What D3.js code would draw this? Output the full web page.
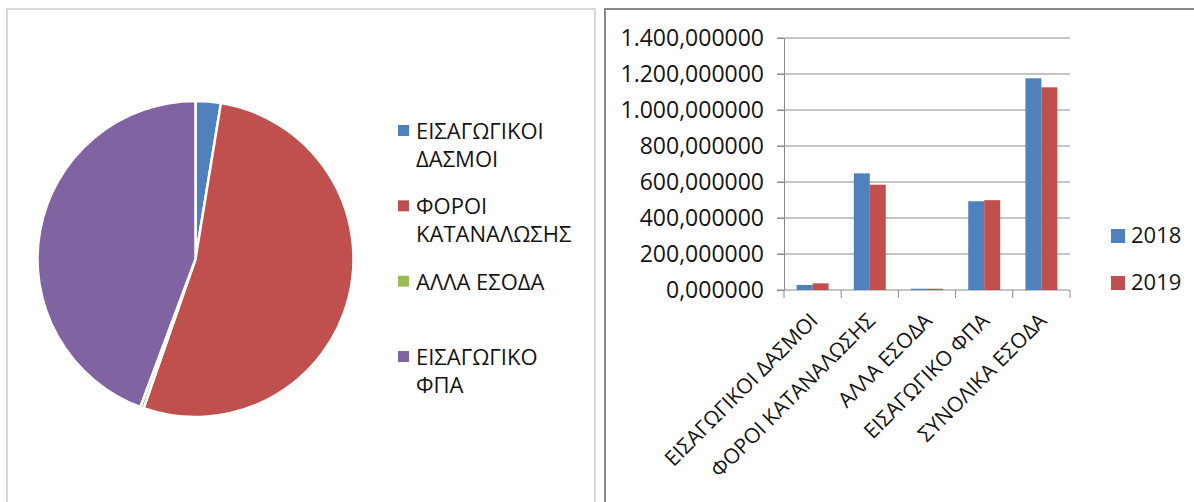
<!DOCTYPE html>
<html lang="el">
<head>
    <meta charset="UTF-8">
    <title>Έσοδα 2018 - 2019</title>
    <script src="https://d3js.org/d3.v7.min.js"></script>
    <style>
        body {
            margin: 0;
            background: #fff;
            font-family: "Open Sans", "Noto Sans", sans-serif;
        }
        text {
            fill: #141414;
        }
        .grid line {
            stroke: #8a8a8a;
            stroke-width: 1px;
        }
    </style>
</head>
<body>
    <svg id="chart" width="1194" height="502"></svg>

    <script>
        // Categories and values
        const categories = ["ΕΙΣΑΓΩΓΙΚΟΙ ΔΑΣΜΟΙ", "ΦΟΡΟΙ ΚΑΤΑΝΑΛΩΣΗΣ", "ΑΛΛΑ ΕΣΟΔΑ", "ΕΙΣΑΓΩΓΙΚΟ ΦΠΑ", "ΣΥΝΟΛΙΚΑ ΕΣΟΔΑ"];
        const years = ["2018", "2019"];
        const values2018 = [28, 648, 7, 493, 1176];
        const values2019 = [37, 585, 7, 499, 1126];
        const yTicks = [0, 200, 400, 600, 800, 1000, 1200, 1400];

        // Pie chart slices
        const pieCategories = ["ΕΙΣΑΓΩΓΙΚΟΙ ΔΑΣΜΟΙ", "ΦΟΡΟΙ ΚΑΤΑΝΑΛΩΣΗΣ", "ΑΛΛΑ ΕΣΟΔΑ", "ΕΙΣΑΓΩΓΙΚΟ ΦΠΑ"];
        const pieLegendLines = [["ΕΙΣΑΓΩΓΙΚΟΙ", "ΔΑΣΜΟΙ"], ["ΦΟΡΟΙ", "ΚΑΤΑΝΑΛΩΣΗΣ"], ["ΑΛΛΑ ΕΣΟΔΑ"], ["ΕΙΣΑΓΩΓΙΚΟ", "ΦΠΑ"]];
        const pieValues = [29, 594, 4, 499];

        const pieColors = ["#4f81bd", "#c0504d", "#9bbb59", "#8064a2"];
        const yearColors = ["#4f81bd", "#c0504d"];

        const svg = d3.select("#chart");

        // Panel frames
        svg.append("rect")
            .attr("x", 7).attr("y", 9)
            .attr("width", 588).attr("height", 520)
            .attr("fill", "none")
            .attr("stroke", "#d9d9d9")
            .attr("stroke-width", 2);

        svg.append("rect")
            .attr("x", 605).attr("y", 9)
            .attr("width", 620).attr("height", 520)
            .attr("fill", "none")
            .attr("stroke", "#888")
            .attr("stroke-width", 2);

        // ---------- Pie chart ----------
        const pie = d3.pie().sort(null).value(d => d);
        const arc = d3.arc().innerRadius(0).outerRadius(158);

        const pieG = svg.append("g")
            .attr("transform", "translate(195.5,259)");

        pieG.selectAll("path")
            .data(pie(pieValues))
            .enter()
            .append("path")
            .attr("d", arc)
            .attr("fill", (d, i) => pieColors[i])
            .attr("stroke", "#fff")
            .attr("stroke-width", 2.5)
            .attr("stroke-linejoin", "round");

        const legendY = d3.scalePoint()
            .domain(pieCategories)
            .range([139, 365]);

        const pieLegend = svg.append("g").attr("class", "pie-legend");

        pieCategories.forEach((c, i) => {
            const by = legendY(c);
            pieLegend.append("rect")
                .attr("x", 398).attr("y", by - 14)
                .attr("width", 11).attr("height", 11)
                .attr("fill", pieColors[i]);
            pieLegend.append("text")
                .attr("x", 416).attr("y", by)
                .style("font-size", "22px")
                .selectAll("tspan")
                .data(pieLegendLines[i])
                .enter()
                .append("tspan")
                .attr("x", 416)
                .attr("dy", (d, j) => j === 0 ? 0 : 28)
                .text(d => d);
        });

        // ---------- Bar chart ----------
        const x0 = d3.scaleBand()
            .domain(categories)
            .range([784, 1070]);

        const x1 = d3.scaleBand()
            .domain(years)
            .range([0, x0.bandwidth()])
            .paddingOuter(0.79);

        const y = d3.scaleLinear()
            .domain([0, 1400])
            .range([290, 38]);

        const greek = d3.formatLocale({ decimal: ",", thousands: ".", grouping: [3], currency: ["", "€"] });
        const fmt = greek.format(",.6f");

        // gridlines
        svg.append("g")
            .attr("class", "grid")
            .selectAll("line")
            .data(yTicks.slice(1))
            .enter()
            .append("line")
            .attr("x1", 777).attr("x2", 1070)
            .attr("y1", d => y(d)).attr("y2", d => y(d));

        // y axis
        const yAxis = svg.append("g")
            .attr("transform", "translate(784,0)")
            .call(d3.axisLeft(y).tickValues(yTicks).tickFormat(fmt).tickSize(7).tickPadding(13));
        yAxis.select(".domain").attr("stroke", "#8a8a8a");
        yAxis.selectAll(".tick line").attr("stroke", "#8a8a8a");
        yAxis.selectAll(".tick text")
            .attr("fill", "#141414")
            .style("font-size", "23px")
            .style("font-family", "'Open Sans', sans-serif");

        // x axis
        const xAxis = svg.append("g")
            .attr("transform", "translate(0,290)");
        xAxis.append("line")
            .attr("x1", 777).attr("x2", 1070)
            .attr("stroke", "#8a8a8a");
        xAxis.selectAll(".cat-tick")
            .data(categories.concat([null]))
            .enter()
            .append("line")
            .attr("class", "cat-tick")
            .attr("x1", d => d ? x0(d) : x0.range()[1])
            .attr("x2", d => d ? x0(d) : x0.range()[1])
            .attr("y1", 0).attr("y2", 8)
            .attr("stroke", "#8a8a8a");

        xAxis.selectAll(".cat-label")
            .data(categories)
            .enter()
            .append("text")
            .attr("class", "cat-label")
            .attr("text-anchor", "end")
            .style("font-size", "21px")
            .attr("transform", d => `translate(${x0(d) + x0.bandwidth() / 2 + 6.5},32) rotate(-45)`)
            .text(d => d);

        // bars
        const barData = categories.map((c, i) => ({ cat: c, vals: [values2018[i], values2019[i]] }));

        svg.append("g")
            .selectAll("g")
            .data(barData)
            .enter()
            .append("g")
            .attr("transform", d => `translate(${x0(d.cat)},0)`)
            .selectAll("rect")
            .data(d => d.vals.map((v, j) => ({ year: years[j], value: v })))
            .enter()
            .append("rect")
            .attr("x", d => x1(d.year))
            .attr("width", x1.bandwidth())
            .attr("y", d => y(d.value))
            .attr("height", d => y(0) - y(d.value))
            .attr("fill", d => yearColors[years.indexOf(d.year)]);

        // bar legend
        const legendYears = d3.scalePoint().domain(years).range([243, 290]);
        const barLegend = svg.append("g");
        years.forEach((yr, i) => {
            barLegend.append("rect")
                .attr("x", 1111).attr("y", legendYears(yr) - 14)
                .attr("width", 14).attr("height", 14)
                .attr("fill", yearColors[i]);
            barLegend.append("text")
                .attr("x", 1131).attr("y", legendYears(yr))
                .style("font-size", "22px")
                .text(yr);
        });
    </script>
</body>
</html>
